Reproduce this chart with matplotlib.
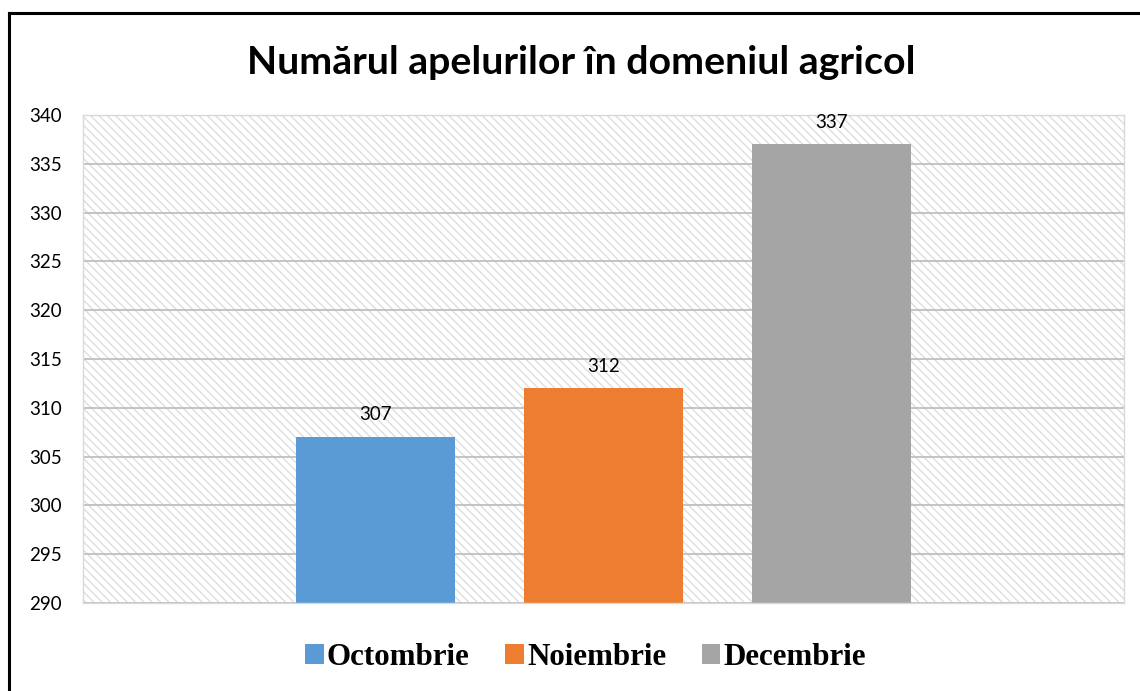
import matplotlib.pyplot as plt
from matplotlib.patches import Rectangle, Patch
from matplotlib.lines import Line2D
import numpy as np

# data
months = ['Octombrie', 'Noiembrie', 'Decembrie']
calls = [307, 312, 337]
colors = ['#5B9BD5', '#ED7D31', '#A5A5A5']
yticks = list(range(290, 341, 5))

fig = plt.figure(figsize=(11.4, 6.91), dpi=100)
ax = fig.add_axes([83/1140, 1-603/691, 1041/1140, 488/691])

# hatched plot area background
bg = Rectangle((0, 0), 1, 1, transform=ax.transAxes, facecolor='white',
               edgecolor='#dedede', hatch='\\\\\\\\', linewidth=0, zorder=0)
ax.add_patch(bg)

x = np.arange(len(months))
bars = ax.bar(x, calls, width=0.7, color=colors, zorder=2)
for xi, v in zip(x, calls):
    ax.text(xi, v + 1.4, str(v), ha='center', va='bottom',
            fontsize=13.5, family='Lato', zorder=3)

ax.set_xlim(-1.283, 3.283)
ax.set_ylim(290, 340)
ax.set_yticks(yticks)
ax.set_yticklabels([str(t) for t in yticks], family='Lato', fontsize=13.5)
ax.set_xticks([])
ax.tick_params(axis='y', length=0, pad=15)
ax.set_axisbelow(True)
ax.grid(axis='y', color='#bfbfbf', linewidth=1.3, zorder=1)
for s in ax.spines.values():
    s.set_color('#d9d9d9')
    s.set_linewidth(1.0)

fig.text(0.51, 0.91, 'Numărul apelurilor în domeniul agricol', ha='center',
         va='center', fontsize=28.3, fontweight='bold', family='Lato')

handles = [Patch(facecolor=c, edgecolor='none') for c in colors]
fig.legend(handles, months, loc='center', bbox_to_anchor=(0.5136, 0.049), ncol=3,
           frameon=False, handlelength=0.6, handleheight=0.6, handletextpad=0.1,
           columnspacing=1.15,
           prop={'family': 'Liberation Serif', 'weight': 'bold', 'size': 22.3})

# frame border (left and top)
fig.add_artist(Line2D([9/1140, 9/1140], [0, 1-12.5/691], color='black', lw=2.2,
                      solid_capstyle='projecting'))
fig.add_artist(Line2D([9/1140, 1], [1-12.5/691, 1-12.5/691], color='black', lw=2.2,
                      solid_capstyle='projecting'))

fig.savefig('out.png', dpi=100)
